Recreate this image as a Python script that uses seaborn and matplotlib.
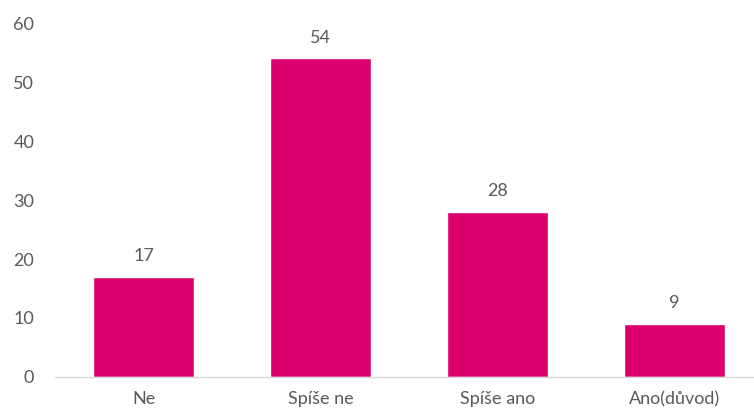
import matplotlib
matplotlib.use("Agg")
import matplotlib.pyplot as plt
import seaborn as sns
import pandas as pd

kategorie = ["Ne", "Spíše ne", "Spíše ano", "Ano(důvod)"]
pocty = [17, 54, 28, 9]
y_ticks = [0, 10, 20, 30, 40, 50, 60]

barva = "#DC006C"
seda = "#595959"

sns.set_style("white")
plt.rcParams['font.family'] = ['Lato', 'DejaVu Sans']

df = pd.DataFrame({"kategorie": kategorie, "pocet": pocty})

fig = plt.figure(figsize=(7.54, 4.12), dpi=100)
ax = fig.add_axes([0.073, 0.085, 0.927, 0.859])

sns.barplot(data=df, x="kategorie", y="pocet", color=barva, width=0.57,
            saturation=1, ax=ax)

# popisky hodnot nad sloupci
for p, v in zip(ax.patches, pocty):
    ax.annotate(str(v), (p.get_x() + p.get_width() / 2, p.get_height()),
                xytext=(0, 9), textcoords="offset points",
                ha="center", va="bottom", fontsize=13, color=seda)

ax.set_ylim(0, 60)
ax.set_xlim(-0.5, 3.449)
ax.set_yticks(y_ticks)
ax.set_xlabel("")
ax.set_ylabel("")
ax.tick_params(axis="both", length=0, labelsize=13, labelcolor=seda)
ax.tick_params(axis="y", pad=15)
ax.tick_params(axis="x", pad=10)

for s in ["top", "right", "left"]:
    ax.spines[s].set_visible(False)
ax.spines["bottom"].set_color("#D9D9D9")
ax.spines["bottom"].set_linewidth(1)

fig.savefig("out.png", dpi=100)
